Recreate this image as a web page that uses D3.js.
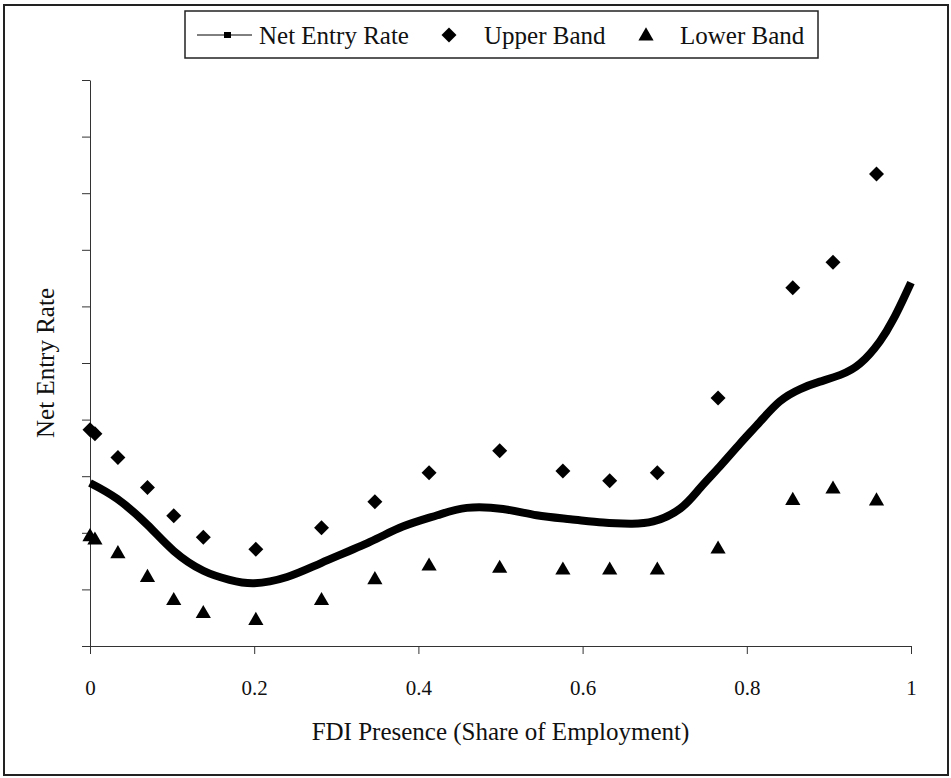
<!DOCTYPE html>
<html>
<head>
<meta charset="utf-8">
<script src="https://cdn.jsdelivr.net/npm/d3@7"></script>
<style>
  body { margin: 0; background: #fff; }
  svg text { font-family: "Liberation Serif", "DejaVu Serif", serif; fill: #111; }
</style>
</head>
<body>
<div id="chart"></div>
<script>
// x positions of the band points (share of employment)
const bandX = [0.000, 0.006, 0.034, 0.070, 0.102, 0.138, 0.202, 0.282, 0.347, 0.413,
               0.499, 0.576, 0.633, 0.691, 0.765, 0.856, 0.905, 0.958];
const upperBand = [3.82, 3.75, 3.33, 2.80, 2.30, 1.92, 1.71, 2.09, 2.55, 3.06,
                   3.45, 3.09, 2.92, 3.06, 4.38, 6.33, 6.78, 8.34];
const lowerBand = [1.93, 1.87, 1.63, 1.21, 0.80, 0.57, 0.45, 0.80, 1.17, 1.41,
                   1.37, 1.34, 1.34, 1.34, 1.71, 2.57, 2.77, 2.56];

// fitted net entry rate curve
const lineX = [0.000, 0.033, 0.070, 0.102, 0.138, 0.170, 0.200, 0.240, 0.282, 0.341,
               0.381, 0.423, 0.459, 0.503, 0.544, 0.585, 0.625, 0.658, 0.686, 0.719,
               0.743, 0.767, 0.792, 0.816, 0.840, 0.865, 0.889, 0.914, 0.938, 0.962,
               0.978, 0.990, 1.000];
const netEntryRate = [2.88, 2.60, 2.14, 1.68, 1.33, 1.17, 1.11, 1.22, 1.47, 1.84,
                      2.11, 2.31, 2.44, 2.42, 2.31, 2.24, 2.18, 2.16, 2.20, 2.43,
                      2.79, 3.17, 3.58, 3.96, 4.32, 4.54, 4.67, 4.79, 4.99, 5.38,
                      5.76, 6.11, 6.42];

const xTicks = [0, 0.2, 0.4, 0.6, 0.8, 1];
const xTickLabels = ["0", "0.2", "0.4", "0.6", "0.8", "1"];
const yTicks = [0, 1, 2, 3, 4, 5, 6, 7, 8, 9, 10];

const legendItems = ["Net Entry Rate", "Upper Band", "Lower Band"];

const width = 951;
const height = 778;

const svg = d3.select("#chart")
    .append("svg")
    .attr("width", width)
    .attr("height", height);

// outer frame
svg.append("rect")
    .attr("x", 4)
    .attr("y", 5)
    .attr("width", 944)
    .attr("height", 770)
    .attr("fill", "#fff")
    .attr("stroke", "#222")
    .attr("stroke-width", 2);

const plot = { left: 90, right: 911, top: 80, bottom: 646 };

const xScale = d3.scaleLinear()
    .domain([0, 1])
    .range([plot.left, plot.right]);
const yScale = d3.scaleLinear()
    .domain([0, 10])
    .range([plot.bottom, plot.top]);

const xAxis = d3.axisBottom(xScale)
    .tickValues(xTicks)
    .tickFormat((d, i) => xTickLabels[i])
    .tickSize(8)
    .tickSizeOuter(0)
    .tickPadding(26);
const xAxisGroup = svg.append("g")
    .attr("transform", `translate(0,${plot.bottom})`)
    .call(xAxis);
xAxisGroup.selectAll("text")
    .style("font-size", "21px")
    .style("font-family", "'Liberation Serif', serif");

const yAxis = d3.axisLeft(yScale)
    .tickValues(yTicks)
    .tickFormat("")
    .tickSize(8)
    .tickSizeOuter(0);
svg.append("g")
    .attr("transform", `translate(${plot.left},0)`)
    .call(yAxis);

svg.selectAll(".domain, .tick line")
    .attr("stroke", "#333")
    .attr("stroke-width", 1);

// axis titles
svg.append("text")
    .attr("x", (plot.left + plot.right) / 2)
    .attr("y", 740)
    .attr("text-anchor", "middle")
    .style("font-size", "25px")
    .text("FDI Presence (Share of Employment)");

svg.append("text")
    .attr("transform", `translate(54,${(plot.top + plot.bottom) / 2}) rotate(-90)`)
    .attr("text-anchor", "middle")
    .style("font-size", "25px")
    .text("Net Entry Rate");

// fitted line
const lineData = lineX.map((x, i) => [x, netEntryRate[i]]);
const line = d3.line()
    .x(d => xScale(d[0]))
    .y(d => yScale(d[1]))
    .curve(d3.curveNatural);

svg.append("path")
    .datum(lineData)
    .attr("fill", "none")
    .attr("stroke", "#000")
    .attr("stroke-width", 8)
    .attr("stroke-linejoin", "round")
    .attr("d", line);

// band markers
const diamond = d3.symbol().type(d3.symbolSquare).size(112);
const triangle = d3.symbol().type(d3.symbolTriangle).size(100);

svg.append("g")
    .selectAll("path")
    .data(bandX.map((x, i) => [x, upperBand[i]]))
    .join("path")
    .attr("d", diamond)
    .attr("fill", "#000")
    .attr("transform", d => `translate(${xScale(d[0])},${yScale(d[1])}) rotate(45)`);

svg.append("g")
    .selectAll("path")
    .data(bandX.map((x, i) => [x, lowerBand[i]]))
    .join("path")
    .attr("d", triangle)
    .attr("fill", "#000")
    .attr("transform", d => `translate(${xScale(d[0])},${yScale(d[1])})`);

// legend
const legend = svg.append("g");
legend.append("rect")
    .attr("x", 185)
    .attr("y", 11)
    .attr("width", 633)
    .attr("height", 47)
    .attr("fill", "#fff")
    .attr("stroke", "#222")
    .attr("stroke-width", 1.5);

const legendY = 35;
legend.append("line")
    .attr("x1", 197).attr("x2", 252)
    .attr("y1", legendY).attr("y2", legendY)
    .attr("stroke", "#000")
    .attr("stroke-width", 1);
legend.append("rect")
    .attr("x", 224).attr("y", legendY - 3)
    .attr("width", 7).attr("height", 6)
    .attr("fill", "#000");
legend.append("path")
    .attr("d", diamond)
    .attr("fill", "#000")
    .attr("transform", `translate(449,${legendY}) rotate(45)`);
legend.append("path")
    .attr("d", triangle)
    .attr("fill", "#000")
    .attr("transform", `translate(646,${legendY + 1})`);

const legendTextX = [259, 484, 680];
legend.selectAll("text")
    .data(legendItems)
    .join("text")
    .attr("x", (d, i) => legendTextX[i])
    .attr("y", legendY + 9)
    .style("font-size", "25px")
    .text(d => d);
</script>
</body>
</html>
